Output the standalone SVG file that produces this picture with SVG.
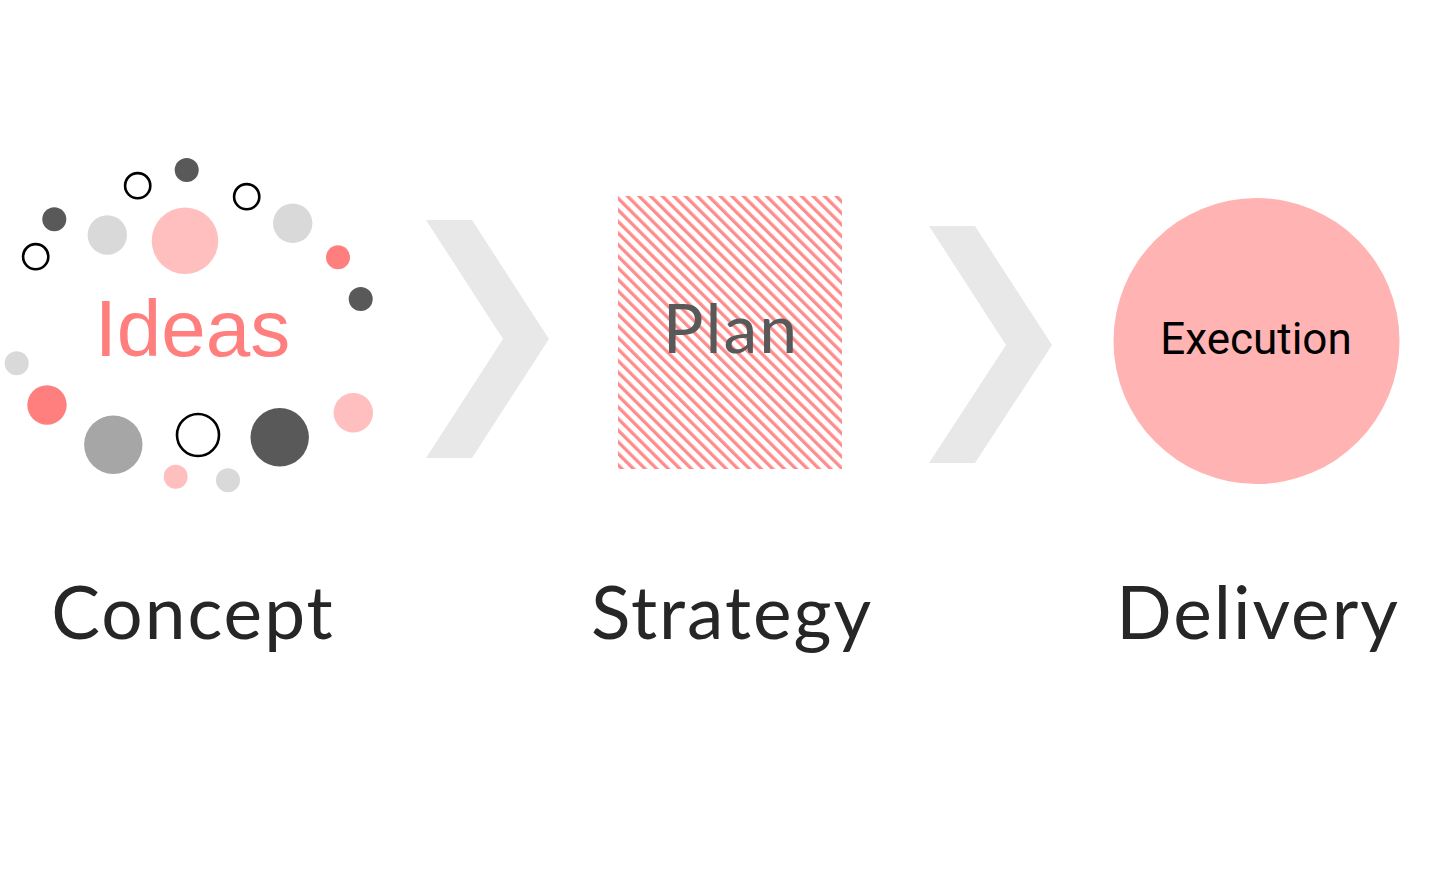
<svg xmlns="http://www.w3.org/2000/svg" width="1440" height="880" viewBox="0 0 1440 880">
<style>
.dk{fill:#595959}
.lg{fill:#D9D9D9}
.pk{fill:#FFBFBF}
.rd{fill:#FF7F7F}
.md{fill:#A6A6A6}
.ol{fill:none;stroke:#000;stroke-width:2.6}
.chev{fill:#E8E8E8}
.lbl{font-family:Lato,"Open Sans",sans-serif;font-size:73px;letter-spacing:2px;fill:#262626;text-anchor:middle}
</style>
<defs>
<pattern id="stripes" patternUnits="userSpaceOnUse" width="8.2" height="8.2" patternTransform="rotate(-45)">
<rect x="0" y="0" width="3.3" height="8.2" fill="#FF8C8C"/>
</pattern>
</defs>
<rect width="1440" height="880" fill="#fff"/>
<g id="connectors">
<polygon class="chev" points="426,220 472,220 549,339 472,458 426,458 503,339"/>
<polygon class="chev" points="929,226 975,226 1052,345 975,463 929,463 1006,345"/>
</g>
<g id="ideas">
<circle class="ol" cx="137.7" cy="185.7" r="12.6"/>
<circle class="dk" cx="186.7" cy="170" r="12"/>
<circle class="ol" cx="246.7" cy="196.7" r="12.6"/>
<circle class="dk" cx="54.3" cy="219.3" r="12"/>
<circle class="ol" cx="35.7" cy="256.7" r="12.6"/>
<circle class="lg" cx="107.3" cy="235" r="19.7"/>
<circle class="pk" cx="185" cy="240.7" r="33.3"/>
<circle class="lg" cx="292.7" cy="223.3" r="19.7"/>
<circle class="rd" cx="338" cy="257.3" r="12"/>
<circle class="dk" cx="360.7" cy="299" r="12"/>
<circle class="lg" cx="16.7" cy="363.3" r="12"/>
<circle class="rd" cx="47" cy="405" r="19.7"/>
<circle class="md" cx="113.3" cy="444.7" r="29.2"/>
<circle class="ol" cx="198" cy="435" r="21"/>
<circle class="dk" cx="279.7" cy="437.3" r="29.2"/>
<circle class="pk" cx="353.3" cy="412.7" r="19.7"/>
<circle class="pk" cx="175.7" cy="476.7" r="12"/>
<circle class="lg" cx="228" cy="480.3" r="12"/>
<text x="192.5" y="356" font-family="Liberation Sans, Arial, sans-serif" font-size="80" fill="#FF7F7F" text-anchor="middle">Ideas</text>
</g>
<g id="plan">
<rect x="618" y="196" width="224" height="273" fill="url(#stripes)"/>
<text x="731" y="353" font-family="Lato, Open Sans, sans-serif" font-size="68" letter-spacing="2" fill="#595959" text-anchor="middle">Plan</text>
</g>
<g id="execution">
<circle cx="1256.5" cy="341" r="143" fill="#FFB3B3"/>
<text x="1256" y="354" font-family="Roboto, sans-serif" font-size="44" fill="#000" text-anchor="middle">Execution</text>
</g>
<g id="concept"><text class="lbl" x="193" y="639" letter-spacing="2.5">Concept</text></g>
<g id="strategy"><text class="lbl" x="732" y="639">Strategy</text></g>
<g id="delivery"><text class="lbl" x="1258" y="639">Delivery</text></g>
</svg>
